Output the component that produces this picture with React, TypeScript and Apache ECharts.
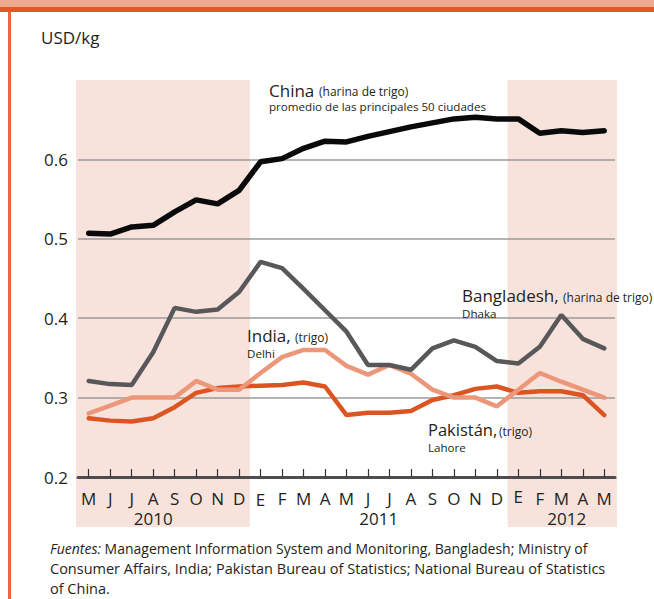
import React, { useEffect, useRef } from 'react';
import * as echarts from 'echarts';

const months = ['M', 'J', 'J', 'A', 'S', 'O', 'N', 'D', 'E', 'F', 'M', 'A', 'M', 'J', 'J', 'A', 'S', 'O', 'N', 'D', 'E', 'F', 'M', 'A', 'M'];
const yearLabels = ['2010', '2011', '2012'];
const yTickLabels = ['0.2', '0.3', '0.4', '0.5', '0.6'];

const china = [0.507, 0.506, 0.515, 0.517, 0.534, 0.549, 0.544, 0.561, 0.597, 0.601, 0.614, 0.623, 0.622, 0.629, 0.635, 0.641, 0.646, 0.651, 0.653, 0.651, 0.651, 0.633, 0.636, 0.634, 0.636];
const bangladesh = [0.321, 0.317, 0.316, 0.357, 0.413, 0.408, 0.411, 0.433, 0.471, 0.463, 0.437, 0.41, 0.383, 0.341, 0.341, 0.335, 0.362, 0.372, 0.364, 0.346, 0.343, 0.364, 0.404, 0.374, 0.362];
const india = [0.28, 0.29, 0.3, 0.3, 0.3, 0.321, 0.31, 0.31, 0.331, 0.351, 0.36, 0.36, 0.34, 0.329, 0.341, 0.33, 0.31, 0.3, 0.3, 0.289, 0.31, 0.331, 0.32, 0.31, 0.3];
const pakistan = [0.274, 0.271, 0.27, 0.274, 0.288, 0.306, 0.312, 0.314, 0.315, 0.316, 0.319, 0.314, 0.278, 0.281, 0.281, 0.283, 0.297, 0.303, 0.311, 0.314, 0.306, 0.308, 0.308, 0.303, 0.278];

const FONT = "'Open Sans', 'Noto Sans', sans-serif";
const TXT = '#231F20';
const BAND = '#F8E3DC';
const ORANGE = '#E05A24';

export default function App() {
  const ref = useRef<HTMLDivElement>(null);
  useEffect(() => {
    document.body.style.margin = '0';
    const chart = echarts.init(ref.current!, null, { renderer: 'svg' });
    const option: any = {
      animation: false,
      backgroundColor: '#ffffff',
      grid: { left: 78, right: 39, top: 80, bottom: 122 },
      xAxis: {
        type: 'category',
        data: months,
        boundaryGap: true,
        axisLine: { lineStyle: { color: '#4D4D4F', width: 3 } },
        axisTick: { show: true, inside: true, length: 8, alignWithLabel: true, interval: 0, lineStyle: { color: '#333333', width: 1.2 } },
        axisLabel: {
          interval: 0,
          margin: 9,
          formatter: (v: string, i: number) => (i === 8 ? `{d|${v}}` : i === 20 ? `{u|${v}}` : `{n|${v}}`),
          rich: {
            n: { fontSize: 17, lineHeight: 17, fontFamily: FONT, color: TXT, padding: [7, 0, 0, 0] },
            d: { fontSize: 17, lineHeight: 17, fontFamily: FONT, color: TXT, padding: [10, 0, 0, 0] },
            u: { fontSize: 17, lineHeight: 17, fontFamily: FONT, color: TXT, padding: [4, 0, 0, 0] },
          },
        },
        splitLine: { show: false },
      },
      yAxis: {
        type: 'value',
        min: 0.2,
        max: 0.7,
        interval: 0.1,
        axisLine: { show: false },
        axisTick: { show: false },
        axisLabel: {
          margin: 10,
          fontSize: 17,
          fontFamily: FONT,
          color: TXT,
          formatter: (v: number) => {
            const s = v.toFixed(1);
            return yTickLabels.indexOf(s) >= 0 ? s : '';
          },
        },
        splitLine: { lineStyle: { color: ['#9B9B9B', '#9B9B9B', '#9B9B9B', '#9B9B9B', '#9B9B9B', 'rgba(0,0,0,0)'], width: 1.5 } },
      },
      series: [
        { name: 'Pakistán', type: 'line', data: pakistan, symbol: 'none', lineStyle: { color: '#DB5523', width: 4.5, cap: 'round' }, z: 3 },
        { name: 'India', type: 'line', data: india, symbol: 'none', lineStyle: { color: '#EC9779', width: 4.5, cap: 'round' }, z: 4 },
        { name: 'Bangladesh', type: 'line', data: bangladesh, symbol: 'none', lineStyle: { color: '#58585A', width: 4.5, cap: 'round' }, z: 5 },
        { name: 'China', type: 'line', data: china, symbol: 'none', lineStyle: { color: '#0A0A0A', width: 5.5, cap: 'round' }, z: 6 },
      ],
    };
    chart.setOption(option);

    const x0 = chart.convertToPixel({ xAxisIndex: 0 }, 0) as number;
    const x1 = chart.convertToPixel({ xAxisIndex: 0 }, 1) as number;
    const step = x1 - x0;
    const yTop = chart.convertToPixel({ yAxisIndex: 0 }, 0.7) as number;
    const bandBottom = 527;
    const cx = (i: number) => x0 + i * step;

    const txt = (text: string, x: number, y: number, fontSize: number, extra: any = {}) => ({
      type: 'text',
      x,
      y,
      z: 10,
      style: { text, fontSize, fontFamily: FONT, fill: TXT, verticalAlign: 'middle', align: 'left', ...extra },
    });

    const graphic: any[] = [
      // bands
      { type: 'rect', z: -10, shape: { x: cx(-0.5) - 2, y: yTop, width: cx(7.5) - cx(-0.5) + 2, height: bandBottom - yTop }, style: { fill: BAND } },
      { type: 'rect', z: -10, shape: { x: cx(19.5), y: yTop, width: cx(24.5) - cx(19.5) + 2, height: bandBottom - yTop }, style: { fill: BAND } },
      // frame
      { type: 'rect', z: 20, shape: { x: 0, y: 0, width: 654, height: 7 }, style: { fill: '#EEAA8E' } },
      { type: 'rect', z: 20, shape: { x: 0, y: 7, width: 654, height: 5 }, style: { fill: ORANGE } },
      { type: 'rect', z: 20, shape: { x: 8, y: 12, width: 3, height: 587 }, style: { fill: '#E66A3A' } },
      // unit
      txt('USD/kg', 41, 37.5, 17),
      // years
      txt(yearLabels[0], cx(3), 518, 17, { align: 'center', lineHeight: 17 }),
      txt(yearLabels[1], cx(13.5), 518, 17, { align: 'center', lineHeight: 17 }),
      txt(yearLabels[2], cx(22.25), 518, 17, { align: 'center', lineHeight: 17 }),
      // annotations
      txt('China', 269, 90, 17),
      txt('(harina de trigo)', 319, 91.4, 12),
      txt('promedio de las principales 50 ciudades', 269, 106, 11.6),
      txt('Bangladesh,', 462, 295.6, 17),
      txt('(harina de trigo)', 563, 297, 12),
      txt('Dhaka', 462, 313, 11.6),
      txt('India,', 247, 335.6, 17),
      txt('(trigo)', 295, 337, 12),
      txt('Delhi', 247, 353, 11.6),
      txt('Pakistán,', 428, 429.5, 16.5),
      txt('(trigo)', 499, 431, 12),
      txt('Lahore', 428, 447, 11.6),
      // sources
      {
        type: 'text', x: 50, y: 548, z: 10,
        style: {
          text: '{i|Fuentes:} Management Information System and Monitoring, Bangladesh; Ministry of',
          fontSize: 14, fontFamily: FONT, fill: TXT, verticalAlign: 'middle',
          rich: { i: { fontStyle: 'italic', fontSize: 14, fontFamily: FONT, fill: TXT } },
        },
      },
      txt('Consumer Affairs, India; Pakistan Bureau of Statistics; National Bureau of Statistics', 50, 568, 14.5),
      txt('of China.', 50, 588, 14.5),
    ];
    chart.setOption({ graphic });

    return () => chart.dispose();
  }, []);
  return <div ref={ref} style={{ position: 'absolute', left: 0, top: 0, width: 654, height: 599 }} />;
}
